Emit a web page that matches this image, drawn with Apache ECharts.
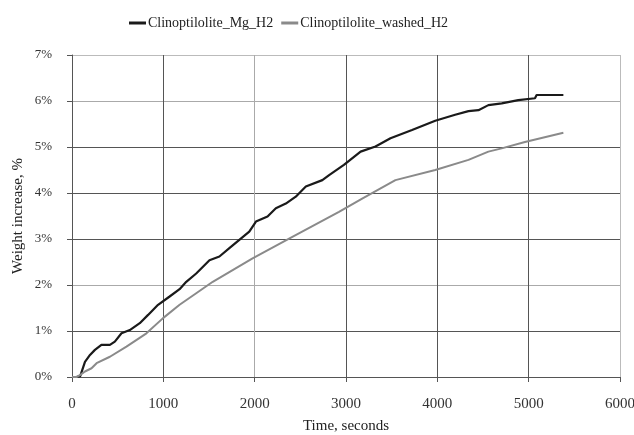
<!DOCTYPE html>
<html><head><meta charset="utf-8">
<script src="https://cdn.jsdelivr.net/npm/echarts@6/dist/echarts.min.js"></script>
<style>html,body{margin:0;padding:0;background:#fff}#c{width:634px;height:435px}</style>
</head><body><div id="c"></div>
<script>
var seriesNames = ['Clinoptilolite_Mg_H2', 'Clinoptilolite_washed_H2'];
var mgTime = [0, 50, 90, 142, 197, 251, 322, 415, 469, 542, 633, 742, 833, 942, 1069, 1178, 1251, 1360, 1505, 1614, 1723, 1832, 1941, 2014, 2141, 2232, 2341, 2450, 2560, 2741, 2815, 2977, 3160, 3323, 3487, 3723, 3977, 4195, 4341, 4450, 4559, 4705, 4886, 5069, 5087, 5380];
var mgValue = [0, 0, 0.02, 0.33, 0.48, 0.59, 0.70, 0.70, 0.77, 0.95, 1.02, 1.17, 1.35, 1.57, 1.75, 1.91, 2.07, 2.25, 2.54, 2.62, 2.80, 2.98, 3.16, 3.38, 3.49, 3.67, 3.77, 3.92, 4.14, 4.28, 4.39, 4.61, 4.90, 5.01, 5.19, 5.37, 5.57, 5.70, 5.78, 5.80, 5.91, 5.95, 6.02, 6.06, 6.13, 6.13];
var washedTime = [0, 50, 87, 142, 214, 269, 415, 596, 815, 997, 1178, 1360, 1541, 1977, 2377, 2923, 3177, 3541, 3977, 4341, 4559, 4705, 4959, 5380];
var washedValue = [0, 0, 0.04, 0.12, 0.19, 0.30, 0.44, 0.66, 0.95, 1.28, 1.57, 1.82, 2.07, 2.58, 3.01, 3.59, 3.88, 4.28, 4.50, 4.72, 4.90, 4.97, 5.11, 5.31];
var xTicks = [0, 1000, 2000, 3000, 4000, 5000, 6000];
var yTicks = [0, 1, 2, 3, 4, 5, 6, 7];

function pairs(t, v) { return t.map(function (x, i) { return [x, v[i]]; }); }

var font = 'Liberation Serif';
var chart = echarts.init(document.getElementById('c'), null, { renderer: 'canvas' });
chart.setOption({
  animation: false,
  backgroundColor: '#fff',
  grid: { left: 72, right: 14, top: 55, bottom: 58, containLabel: false, outerBoundsMode: 'none' },
  legend: {
    left: 124, top: 11,
    itemWidth: 17, itemHeight: 3, itemGap: 8,
    icon: 'rect',
    textStyle: { fontFamily: font, fontSize: 14, color: '#222', padding: [0, 0, 0, -3] },
    data: seriesNames
  },
  xAxis: {
    type: 'value', min: xTicks[0], max: xTicks[xTicks.length - 1], interval: 1000,
    name: 'Time, seconds', nameLocation: 'middle', nameGap: 42,
    nameTextStyle: { fontFamily: font, fontSize: 15, color: '#222' },
    axisLine: { lineStyle: { color: '#555', width: 1 } },
    axisTick: { show: true, length: 5, lineStyle: { color: '#555' } },
    axisLabel: { fontFamily: font, fontSize: 15, color: '#333', margin: 20, formatter: function (v) { return String(v); } },
    splitLine: { show: true, lineStyle: { color: ['#555', '#555', '#aaa', '#555', '#555', '#555', '#bbb'], width: 1 } }
  },
  yAxis: {
    type: 'value', min: yTicks[0], max: yTicks[yTicks.length - 1], interval: 1,
    name: 'Weight increase, %', nameLocation: 'middle', nameGap: 46, nameRotate: 90, nameMoveOverlap: false,
    nameTextStyle: { fontFamily: font, fontSize: 15, color: '#222' },
    axisLine: { show: true, lineStyle: { color: '#555', width: 1 } },
    axisTick: { show: true, length: 5, lineStyle: { color: '#555' } },
    axisLabel: { fontFamily: font, fontSize: 13, color: '#333', margin: 20, formatter: '{value}%' },
    splitLine: { show: true, lineStyle: { color: ['#555', '#555', '#aaa', '#555', '#555', '#555', '#aaa', '#bbb'], width: 1 } }
  },
  series: [
    { name: seriesNames[0], type: 'line', data: pairs(mgTime, mgValue), showSymbol: false, symbol: 'none',
      lineStyle: { color: '#1a1a1a', width: 2.2 }, itemStyle: { color: '#1a1a1a' } },
    { name: seriesNames[1], type: 'line', data: pairs(washedTime, washedValue), showSymbol: false, symbol: 'none',
      lineStyle: { color: '#8a8a8a', width: 2 }, itemStyle: { color: '#8a8a8a' } }
  ]
});
</script></body></html>
